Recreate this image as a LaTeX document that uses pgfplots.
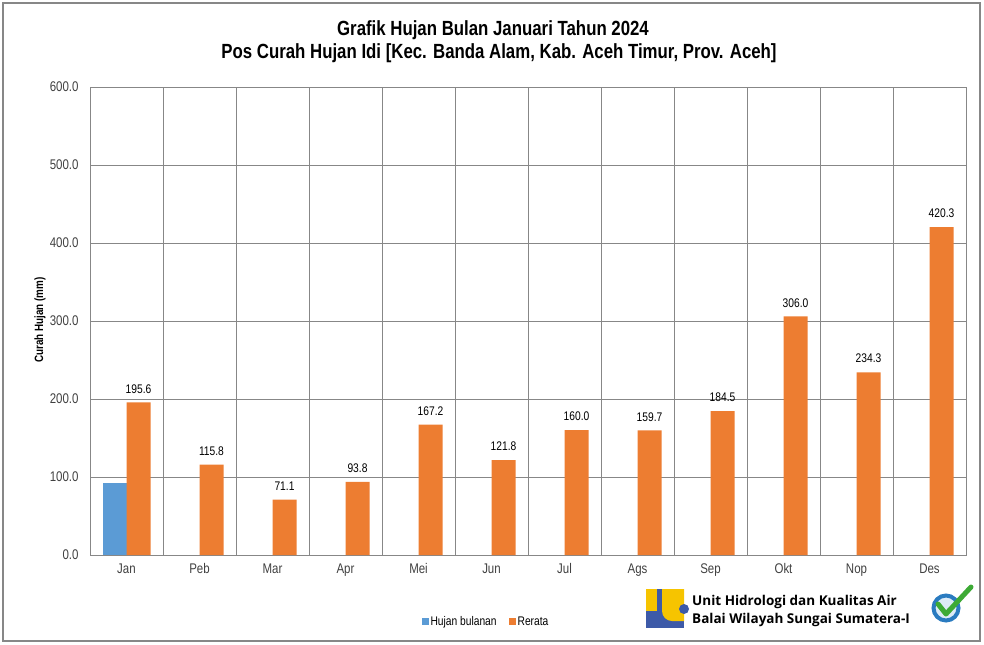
\documentclass[border=0pt]{standalone}
\usepackage{pgfplots}
\pgfplotsset{compat=1.18}
\usepackage{fontspec}
\setmainfont{Liberation Sans}[FakeStretch=0.82]
\newfontfamily\logofont{Open Sans}
\definecolor{cblue}{HTML}{5B9BD5}
\definecolor{corange}{HTML}{ED7D31}
\definecolor{gridc}{HTML}{878787}
\definecolor{tickc}{HTML}{404040}
\definecolor{logoblue}{HTML}{3D5AA8}
\definecolor{logoyellow}{HTML}{F6C400}
\definecolor{badgeblue}{HTML}{2A7BC0}
\definecolor{badgein}{HTML}{DDEBF7}
\definecolor{badgegreen}{HTML}{3DAA35}
\begin{document}
\begin{tikzpicture}
\path (0,0) rectangle (984bp,-645bp);
\draw[gridc, line width=1.2bp] (3bp,-3bp) rectangle (980bp,-641bp);
\begin{axis}[
 at={(90bp,-555bp)}, anchor=south west, scale only axis,
 width=876bp, height=468bp,
 xmin=-0.5, xmax=11.5, ymin=0, ymax=600,
 ybar=0pt, bar width=24bp,
 xtick={0,...,11},
 xticklabels={Jan,Peb,Mar,Apr,Mei,Jun,Jul,Ags,Sep,Okt,Nop,Des},
 minor xtick={0.5,1.5,...,10.5}, xminorgrids=true,
 ytick={0,100,...,600}, ymajorgrids=true,
 major tick length=0pt, minor tick length=0pt,
 axis line style={gridc, line width=1bp},
 grid style={gridc, line width=1bp},
 minor grid style={gridc, line width=1bp},
 ticklabel style={font=\fontsize{14bp}{16bp}\selectfont, text=tickc},
 yticklabel style={xshift=-8bp},
 xticklabel style={yshift=-5bp},
 /pgf/number format/fixed,
 /pgf/number format/fixed zerofill,
 /pgf/number format/precision=1,
 /pgf/number format/assume math mode=true,
 legend style={at={(axis description cs:0.452,-0.143)}, anchor=center, draw=none,
   legend columns=2, font=\fontsize{12.5bp}{14bp}\selectfont,
   /tikz/every even column/.append style={column sep=10bp}},
 legend image code/.code={\fill[#1] (0bp,-3.5bp) rectangle (7bp,3.5bp);},
]
\addplot[fill=cblue, draw=none] coordinates {(0,92)};
\addplot[fill=corange, draw=none, nodes near coords,
  nodes near coords style={font=\fontsize{12.5bp}{15bp}\selectfont, text=black, anchor=south, inner sep=0pt, yshift=9bp}]
 coordinates {(0,195.6) (1,115.8) (2,71.1) (3,93.8) (4,167.2) (5,121.8) (6,160.0) (7,159.7) (8,184.5) (9,306.0) (10,234.3) (11,420.3)};
\legend{Hujan bulanan, Rerata}
\end{axis}
\node[anchor=base, font=\bfseries\fontsize{20.5bp}{22bp}\selectfont] at (493bp,-35bp) {Grafik Hujan Bulan Januari Tahun 2024};
\node[anchor=base, font=\bfseries\fontsize{20.5bp}{22bp}\selectfont] at (499bp,-58bp) {Pos Curah Hujan Idi [Kec. Banda Alam, Kab. Aceh Timur, Prov. Aceh]};
\node[rotate=90, font=\bfseries\fontsize{12bp}{13bp}\selectfont] at (40bp,-320bp) {Curah Hujan (mm)};
% logo
\fill[logoblue] (646bp,-589bp) rectangle (684bp,-628bp);
\fill[logoyellow] (646bp,-589bp) rectangle (657bp,-611bp);
\fill[logoyellow] (662bp,-589bp) -- (684bp,-589bp) -- (684bp,-621bp) -- (672bp,-621bp) arc[start angle=270, end angle=180, radius=10bp] -- cycle;
\fill[logoblue] (684bp,-609bp) circle (5bp);
\node[anchor=base west, inner sep=0pt, font=\logofont\bfseries\fontsize{13.5bp}{16bp}\selectfont] at (692bp,-605bp) {Unit Hidrologi dan Kualitas Air};
\node[anchor=base west, inner sep=0pt, font=\logofont\bfseries\fontsize{13.5bp}{16bp}\selectfont] at (692bp,-623bp) {Balai Wilayah Sungai Sumatera-I};
% badge
\fill[badgein] (946bp,-608bp) circle (11bp);
\draw[badgeblue, line width=4bp] (946bp,-608bp) circle (12.5bp);
\draw[badgegreen, line width=5bp, line cap=round, line join=round] (938bp,-604bp) -- (946bp,-614bp) -- (971bp,-587bp);
\end{tikzpicture}
\end{document}
